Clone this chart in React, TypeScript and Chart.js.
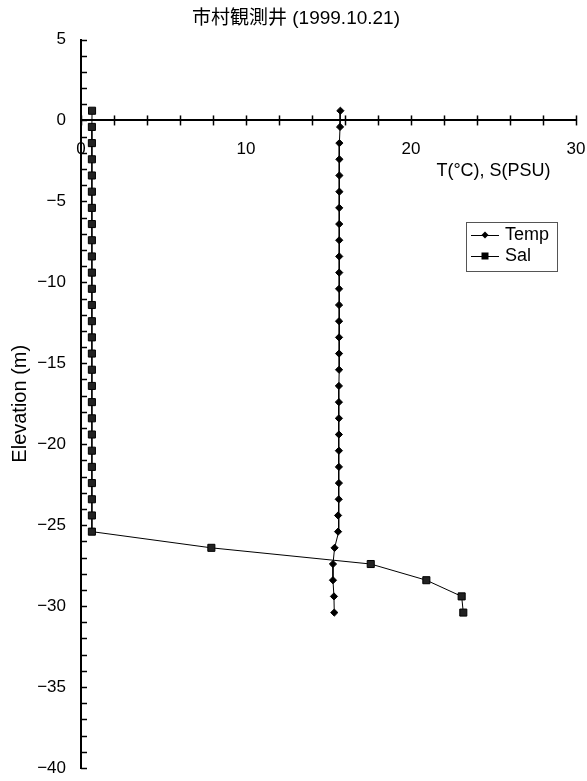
import React, { useEffect, useRef } from "react";
import { Chart, registerables } from "chart.js";

Chart.register(...registerables);

const chartTitle = "市村観測井 (1999.10.21)";
const xAxisTitle = "T(°C), S(PSU)";
const yAxisTitle = "Elevation (m)";

const elevation = [
  0.6, -0.4, -1.4, -2.4, -3.4, -4.4, -5.4, -6.4, -7.4, -8.4, -9.4, -10.4,
  -11.4, -12.4, -13.4, -14.4, -15.4, -16.4, -17.4, -18.4, -19.4, -20.4,
  -21.4, -22.4, -23.4, -24.4, -25.4, -26.4, -27.4, -28.4, -29.4, -30.4,
];

const temp = [
  15.72, 15.7, 15.66, 15.66, 15.66, 15.66, 15.65, 15.65, 15.65, 15.65, 15.65,
  15.64, 15.64, 15.64, 15.64, 15.64, 15.64, 15.63, 15.63, 15.63, 15.63, 15.63,
  15.63, 15.63, 15.62, 15.58, 15.58, 15.37, 15.27, 15.27, 15.33, 15.35,
];

const sal = [
  0.67, 0.66, 0.66, 0.66, 0.66, 0.66, 0.66, 0.66, 0.66, 0.66, 0.66, 0.66,
  0.66, 0.66, 0.66, 0.66, 0.66, 0.66, 0.66, 0.66, 0.66, 0.66, 0.66, 0.66,
  0.66, 0.66, 0.66, 7.9, 17.56, 20.93, 23.07, 23.17,
];

const seriesLabels = ["Temp", "Sal"];
const xMajorTicks = [0, 10, 20, 30];
const yMajorTicks = [5, 0, -5, -10, -15, -20, -25, -30, -35, -40];

const FONT = '"Liberation Sans", Arial, "Noto Sans CJK JP", sans-serif';

const overlay = {
  id: "overlay",
  afterDraw(chart: any) {
    const ctx = chart.ctx;
    const xs = chart.scales.x;
    const ys = chart.scales.y;
    const area = chart.chartArea;
    const y0 = ys.getPixelForValue(0);
    ctx.save();
    ctx.strokeStyle = "#000";
    ctx.lineWidth = 1.5;
    // y ticks (inward)
    for (let v = ys.min; v <= ys.max; v += 1) {
      const py = Math.round(ys.getPixelForValue(v)) + 0.5;
      ctx.beginPath();
      ctx.moveTo(area.left, py);
      ctx.lineTo(area.left + 6, py);
      ctx.stroke();
    }
    // x ticks (crossing the axis)
    for (let v = xs.min; v <= xs.max; v += 2) {
      const px = Math.round(xs.getPixelForValue(v)) + 0.5;
      ctx.beginPath();
      ctx.moveTo(px, y0 - 5);
      ctx.lineTo(px, y0 + 5);
      ctx.stroke();
    }
    // chart title
    ctx.fillStyle = "#000";
    ctx.font = `19px ${FONT}`;
    ctx.textAlign = "center";
    ctx.textBaseline = "middle";
    ctx.fillText(chartTitle, 296, 19);
    // x axis title
    ctx.font = `18px ${FONT}`;
    ctx.fillText(xAxisTitle, xs.getPixelForValue(25), y0 + 51);
    // legend
    const lx = 466, ly = 222, lw = 91, lh = 49;
    ctx.lineWidth = 1;
    ctx.strokeStyle = "#555";
    ctx.strokeRect(lx + 0.5, ly + 0.5, lw, lh);
    const rows = [ly + 13, ly + 34];
    chart.data.datasets.forEach((ds: any, i: number) => {
      const ry = rows[i];
      ctx.strokeStyle = "#000";
      ctx.lineWidth = 1;
      ctx.beginPath();
      ctx.moveTo(lx + 5, ry + 0.5);
      ctx.lineTo(lx + 33, ry + 0.5);
      ctx.stroke();
      const cx = lx + 19;
      ctx.fillStyle = "#000";
      ctx.beginPath();
      if (ds.pointStyle === "rectRot") {
        ctx.moveTo(cx - 3.5, ry);
        ctx.lineTo(cx, ry - 3.5);
        ctx.lineTo(cx + 3.5, ry);
        ctx.lineTo(cx, ry + 3.5);
        ctx.closePath();
      } else {
        ctx.rect(cx - 3.5, ry - 3.5, 7, 7);
      }
      ctx.fill();
      ctx.font = `18px ${FONT}`;
      ctx.textAlign = "left";
      ctx.textBaseline = "middle";
      ctx.fillStyle = "#000";
      ctx.fillText(ds.label, lx + 39, ry);
    });
    ctx.restore();
  },
};

export default function App() {
  const ref = useRef<HTMLCanvasElement | null>(null);
  useEffect(() => {
    if (!ref.current) return;
    const chart = new Chart(ref.current, {
      type: "line",
      data: {
        datasets: [
          {
            label: seriesLabels[0],
            data: elevation.map((e, i) => ({ x: temp[i], y: e })),
            borderColor: "#000",
            backgroundColor: "#000",
            borderWidth: 1,
            pointStyle: "rectRot",
            pointRadius: 3.6,
            tension: 0,
          },
          {
            label: seriesLabels[1],
            data: elevation.map((e, i) => ({ x: sal[i], y: e })),
            borderColor: "#000",
            backgroundColor: "#222",
            borderWidth: 1,
            pointStyle: "rect",
            pointRadius: 5,
            tension: 0,
          },
        ],
      },
      plugins: [overlay],
      options: {
        animation: false,
        responsive: false,
        devicePixelRatio: 1,
        layout: { padding: { left: 0, right: 11, top: 39.5, bottom: 13 } },
        plugins: {
          legend: { display: false },
          title: { display: false },
          tooltip: { enabled: false },
        },
        scales: {
          x: {
            type: "linear",
            position: { y: 0 } as any,
            min: 0,
            max: 30,
            afterFit: (s: any) => {
              s.paddingLeft = 0;
              s.paddingRight = 0;
            },
            grid: { display: true, drawOnChartArea: false, drawTicks: false },
            border: { display: true, color: "#000", width: 2 },
            ticks: {
              stepSize: 2,
              autoSkip: false,
              maxRotation: 0,
              padding: 19,
              color: "#000",
              font: { size: 17, family: FONT },
              callback: (v: any) => (xMajorTicks.includes(v) ? String(v) : ""),
            },
          },
          y: {
            type: "linear",
            position: "left",
            min: -40,
            max: 5,
            afterFit: (s: any) => {
              s.width = 81;
              s.paddingTop = 0;
              s.paddingBottom = 0;
            },
            grid: { display: true, drawOnChartArea: false, drawTicks: false },
            border: { display: true, color: "#000", width: 2 },
            title: {
              display: true,
              text: yAxisTitle,
              color: "#000",
              font: { size: 20, family: FONT },
              padding: { top: 8, bottom: 0 },
            },
            ticks: {
              stepSize: 1,
              autoSkip: false,
              padding: 15,
              color: "#000",
              font: { size: 17, family: FONT },
              callback: (v: any) =>
                yMajorTicks.includes(v) ? (v < 0 ? "\u2212" + Math.abs(v) : String(v)) : "",
            },
          },
        },
      },
    });
    return () => chart.destroy();
  }, []);
  return (
    <div style={{ position: "fixed", left: 0, top: 0, width: 587, height: 781, background: "#fff" }}>
      <canvas ref={ref} width={587} height={781} style={{ display: "block", width: 587, height: 781 }} />
    </div>
  );
}
